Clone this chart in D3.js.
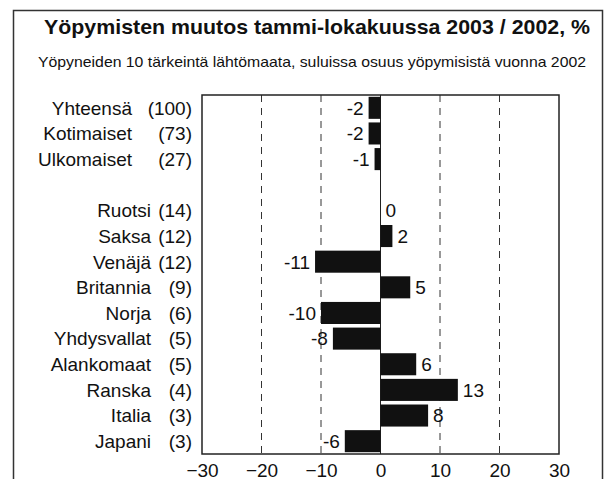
<!DOCTYPE html>
<html>
<head>
<meta charset="utf-8">
<script src="https://cdn.jsdelivr.net/npm/d3@7"></script>
<style>
  body { margin: 0; background: #fff; }
  text { font-family: "Liberation Sans", Arial, Helvetica, sans-serif; fill: #111; }
</style>
</head>
<body>
<div id="chart"></div>
<script>
// data
var names = ["Yhteensä", "Kotimaiset", "Ulkomaiset", "Ruotsi", "Saksa", "Venäjä", "Britannia",
    "Norja", "Yhdysvallat", "Alankomaat", "Ranska", "Italia", "Japani"];
var shares = ["(100)", "(73)", "(27)", "(14)", "(12)", "(12)", "(9)", "(6)", "(5)", "(5)", "(4)", "(3)", "(3)"];
var changes = [-2, -2, -1, 0, 2, -11, 5, -10, -8, 6, 13, 8, -6];
var xTicks = [-30, -20, -10, 0, 10, 20, 30];
var gridTicks = [-20, -10, 10, 20];

var title = "Yöpymisten muutos tammi-lokakuussa 2003 / 2002, %";
var subtitle = "Yöpyneiden 10 tärkeintä lähtömaata, suluissa osuus  yöpymisistä vuonna 2002";

/*********************** Plot Below *********************/
var W = 608, H = 479;
var margin = { top: 95, left: 202, right: 49, bottom: 25 };
var width = W - margin.left - margin.right,
    height = H - margin.top - margin.bottom;

var data = names.map(function (n, i) {
    return { name: n, share: shares[i], value: changes[i], group: i < 3 ? 0 : 1 };
});

// empty slot between the totals and the countries
var domain = names.slice(0, 3).concat(["_gap"]).concat(names.slice(3));

var x = d3.scaleLinear().domain([-30, 30]).range([0, width]);
var y = d3.scaleBand().domain(domain).range([0, height]).paddingInner(0.14).paddingOuter(0.07);

var svg = d3.select("#chart").append("svg")
    .attr("width", W)
    .attr("height", H);

// outer frame
svg.append("rect")
    .attr("x", 13.5).attr("y", 10.5)
    .attr("width", 589).attr("height", 480)
    .attr("fill", "none")
    .attr("stroke", "#333")
    .attr("stroke-width", 1.5);

svg.append("text")
    .attr("x", 44).attr("y", 34)
    .attr("font-size", 21)
    .attr("font-weight", "bold")
    .attr("textLength", 546)
    .attr("lengthAdjust", "spacingAndGlyphs")
    .text(title);

svg.append("text")
    .attr("x", 38).attr("y", 67)
    .attr("font-size", 14.5)
    .attr("textLength", 548)
    .attr("lengthAdjust", "spacingAndGlyphs")
    .text(subtitle);

var g = svg.append("g")
    .attr("transform", "translate(" + margin.left + "," + margin.top + ")");

// dashed grid
g.selectAll(".grid")
    .data(gridTicks)
    .enter().append("line")
    .attr("class", "grid")
    .attr("x1", function (d) { return x(d); })
    .attr("x2", function (d) { return x(d); })
    .attr("y1", 0).attr("y2", height)
    .attr("stroke", "#333")
    .attr("stroke-width", 1)
    .attr("stroke-dasharray", "7,6");

// zero line
g.append("line")
    .attr("x1", x(0)).attr("x2", x(0))
    .attr("y1", 0).attr("y2", height)
    .attr("stroke", "#222")
    .attr("stroke-width", 1);

// bars
g.selectAll(".bar")
    .data(data)
    .enter().append("rect")
    .attr("class", "bar")
    .attr("x", function (d) { return x(Math.min(0, d.value)); })
    .attr("y", function (d) { return y(d.name); })
    .attr("width", function (d) { return Math.abs(x(d.value) - x(0)); })
    .attr("height", y.bandwidth())
    .attr("fill", "#111");

// value labels
g.selectAll(".val")
    .data(data)
    .enter().append("text")
    .attr("class", "val")
    .attr("x", function (d) { return d.value < 0 ? x(d.value) - 5 : x(d.value) + 5; })
    .attr("y", function (d) { return y(d.name) + y.bandwidth() / 2; })
    .attr("dy", "0.36em")
    .attr("font-size", 19)
    .attr("text-anchor", function (d) { return d.value < 0 ? "end" : "start"; })
    .text(function (d) { return d.value; });

// category names and shares
g.selectAll(".name")
    .data(data)
    .enter().append("text")
    .attr("class", "name")
    .attr("x", function (d) { return d.group === 0 ? -70 : -51; })
    .attr("y", function (d) { return y(d.name) + y.bandwidth() / 2; })
    .attr("dy", "0.36em")
    .attr("font-size", 19)
    .attr("text-anchor", "end")
    .text(function (d) { return d.name; });

g.selectAll(".share")
    .data(data)
    .enter().append("text")
    .attr("class", "share")
    .attr("x", -10)
    .attr("y", function (d) { return y(d.name) + y.bandwidth() / 2; })
    .attr("dy", "0.36em")
    .attr("font-size", 19)
    .attr("text-anchor", "end")
    .text(function (d) { return d.share; });

// plot frame
g.append("rect")
    .attr("x", 0).attr("y", 0)
    .attr("width", width).attr("height", height)
    .attr("fill", "none")
    .attr("stroke", "#222")
    .attr("stroke-width", 1.5);

// x axis
var xAxis = d3.axisBottom(x).tickValues(xTicks).tickSize(0).tickPadding(0);
var ax = g.append("g")
    .attr("transform", "translate(0," + height + ")")
    .call(xAxis);
ax.select(".domain").remove();
ax.selectAll("text")
    .attr("y", 23)
    .attr("dy", 0)
    .attr("font-size", 19)
    .attr("font-family", "Liberation Sans, Arial, sans-serif")
    .attr("fill", "#111");
</script>
</body>
</html>
